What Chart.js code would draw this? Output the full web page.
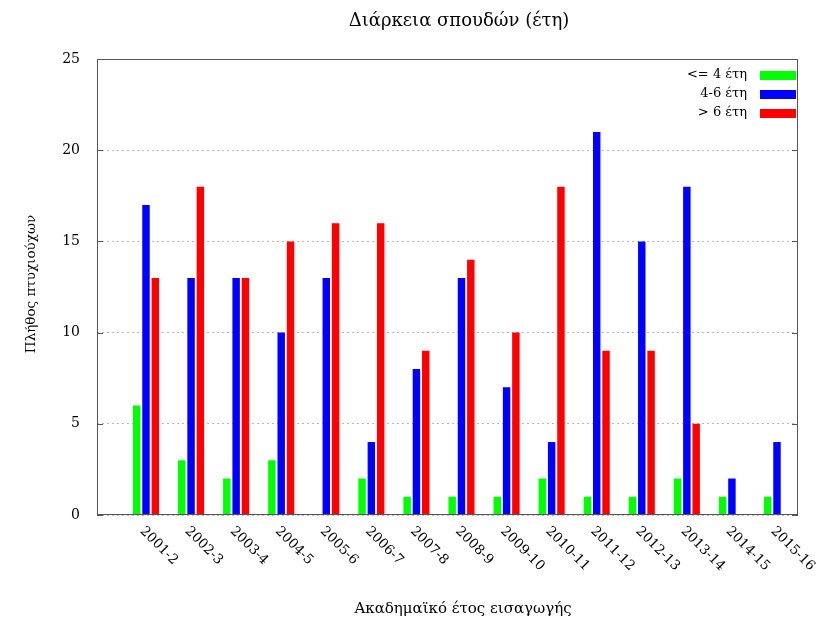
<!DOCTYPE html>
<html>
<head>
<meta charset="utf-8">
<script src="https://cdn.jsdelivr.net/npm/chart.js@4/dist/chart.umd.min.js"></script>
<style>
  html, body { margin: 0; padding: 0; background: #fff; }
</style>
</head>
<body>
<canvas id="chart" width="816" height="621"></canvas>
<script>
// Δεδομένα
const years = ['2001-2', '2002-3', '2003-4', '2004-5', '2005-6', '2006-7', '2007-8', '2008-9', '2009-10', '2010-11', '2011-12', '2012-13', '2013-14', '2014-15', '2015-16'];
const upTo4 = [6, 3, 2, 3, 0, 2, 1, 1, 1, 2, 1, 1, 2, 1, 1];
const from4to6 = [17, 13, 13, 10, 13, 4, 8, 13, 7, 4, 21, 15, 18, 2, 4];
const over6 = [13, 18, 13, 15, 16, 16, 9, 14, 10, 18, 9, 9, 5, 0, 0];
const seriesNames = ['<= 4 έτη', '4-6 έτη', '> 6 έτη'];
const yTicks = [0, 5, 10, 15, 20, 25];

const FONT = '"DejaVu Serif", "Liberation Serif", serif';
const colors = ['#00ff00', '#0000ff', '#ff0000'];

const toPoints = arr => arr.map((v, i) => ({ x: i, y: v }));

// Πλαίσιο, υποδιαιρέσεις, ετικέτες, υπόμνημα
const gnuplotLook = {
    id: 'gnuplotLook',
    afterDraw(chart) {
        const ctx = chart.ctx, a = chart.chartArea;
        const xs = chart.scales.x, ys = chart.scales.y;
        ctx.save();

        // πλαίσιο
        ctx.strokeStyle = '#555'; ctx.lineWidth = 1;
        ctx.strokeRect(a.left + 0.5, a.top + 0.5, a.right - a.left - 1, a.bottom - a.top - 1);

        // υποδιαιρέσεις y (προς τα μέσα, αριστερά και δεξιά)
        yTicks.forEach(t => {
            const y = Math.round(ys.getPixelForValue(t)) + 0.5;
            ctx.beginPath();
            ctx.moveTo(a.left, y); ctx.lineTo(a.left + 6, y);
            ctx.moveTo(a.right, y); ctx.lineTo(a.right - 6, y);
            ctx.stroke();
        });

        // ετικέτες x υπό γωνία
        ctx.fillStyle = '#000';
        ctx.font = '13.5px ' + FONT;
        ctx.textAlign = 'left'; ctx.textBaseline = 'middle';
        years.forEach((lab, i) => {
            const x = xs.getPixelForValue(i);
            ctx.save();
            ctx.translate(x - 4, a.bottom + 14);
            ctx.rotate(Math.PI / 4);
            ctx.fillText(lab, 0, 0);
            ctx.restore();
        });

        // τίτλοι
        ctx.textAlign = 'center';
        ctx.font = '18px ' + FONT;
        ctx.fillText('Διάρκεια σπουδών (έτη)', 459, 21);
        ctx.font = '15px ' + FONT;
        ctx.fillText('Ακαδημαϊκό έτος εισαγωγής', 463, 609);
        ctx.font = '13.5px ' + FONT;
        ctx.save();
        ctx.translate(31, 284); ctx.rotate(-Math.PI / 2);
        ctx.fillText('Πλήθος πτυχιούχων', 0, 0);
        ctx.restore();

        // υπόμνημα
        ctx.font = '13px ' + FONT;
        ctx.textAlign = 'right';
        chart.data.datasets.forEach((ds, i) => {
            const y = 75 + i * 19;
            ctx.fillStyle = '#000';
            ctx.fillText(ds.label, 747, y);
            ctx.fillStyle = ds.backgroundColor;
            ctx.fillRect(760, y - 4, 36, 9);
        });
        ctx.restore();
    }
};

const datasets = [upTo4, from4to6, over6].map((arr, i) => ({
    label: seriesNames[i],
    data: toPoints(arr),
    backgroundColor: colors[i],
    borderWidth: 0,
    categoryPercentage: 0.62,
    barPercentage: 0.8
}));

new Chart(document.getElementById('chart'), {
    type: 'bar',
    data: { datasets },
    plugins: [gnuplotLook],
    options: {
        responsive: false,
        animation: false,
        layout: { padding: { top: 59, right: 18, bottom: 0, left: 0 } },
        plugins: { legend: { display: false }, tooltip: { enabled: false }, title: { display: false } },
        scales: {
            x: {
                type: 'linear',
                offset: false,
                min: -1.087, max: 14.466,
                grid: { display: false, offset: false },
                border: { display: false },
                ticks: { display: false },
                afterFit(s) { s.height = 106; }
            },
            y: {
                min: 0, max: 25,
                afterBuildTicks(s) { s.ticks = yTicks.map(v => ({ value: v })); },
                grid: { color: '#b8b8b8', drawTicks: false, lineWidth: 1 },
                border: { display: false, dash: [2, 3] },
                ticks: { color: '#000', padding: 17, font: { family: FONT, size: 14 } },
                afterFit(s) { s.width = 97; }
            }
        }
    }
});
</script>
</body>
</html>
